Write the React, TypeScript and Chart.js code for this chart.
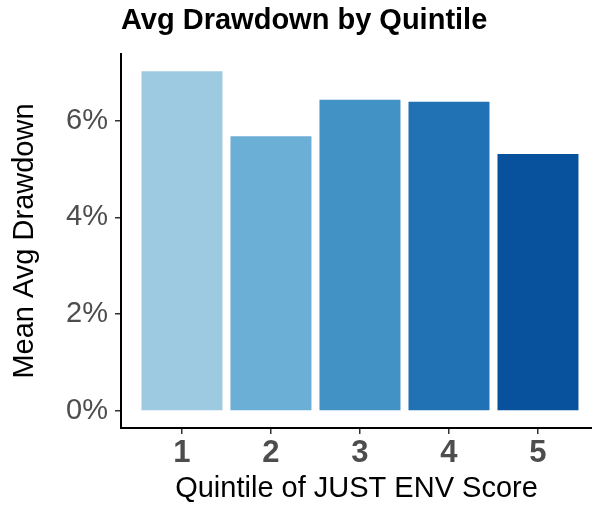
import React, { useEffect, useRef } from "react";
import { Chart, registerables } from "chart.js";

Chart.register(...registerables);

const quintiles = [1, 2, 3, 4, 5];
const meanDrawdown = [7.02, 5.68, 6.43, 6.39, 5.31];
const barColors = ["#9ecae1", "#6baed6", "#4292c6", "#2171b5", "#08519c"];
const yTicks = [0, 2, 4, 6];
const titleText = "Avg Drawdown by Quintile";
const xTitle = "Quintile of JUST ENV Score";
const yTitle = "Mean Avg Drawdown";

const FONT = "'Liberation Sans', Arial, Helvetica, sans-serif";

const titlePlugin = {
  id: "customTitle",
  afterDraw(chart: any) {
    const ctx = chart.ctx;
    ctx.save();
    ctx.font = `bold 29px ${FONT}`;
    ctx.fillStyle = "#000000";
    ctx.textAlign = "left";
    ctx.textBaseline = "middle";
    ctx.fillText(titleText, chart.chartArea.left, 21);
    ctx.restore();
  },
};

export default function App() {
  const ref = useRef<HTMLCanvasElement>(null);
  useEffect(() => {
    if (!ref.current) return;
    const chart = new Chart(ref.current, {
      type: "bar",
      data: {
        datasets: [
          {
            data: quintiles.map((q, i) => ({ x: q, y: meanDrawdown[i] })),
            backgroundColor: barColors,
            borderWidth: 0,
            barPercentage: 0.91,
            categoryPercentage: 1,
          },
        ],
      },
      options: {
        animation: false,
        responsive: false,
        devicePixelRatio: 1,
        layout: { padding: { top: 54, left: 0, right: 0, bottom: 0 } },
        plugins: { legend: { display: false }, tooltip: { enabled: false }, title: { display: false } },
        scales: {
          x: {
            type: "linear",
            offset: false,
            min: 0.315,
            max: 5.607,
            afterBuildTicks: (s: any) => {
              s.ticks = quintiles.map((v) => ({ value: v }));
            },
            afterFit: (s: any) => {
              s.height = 82;
            },
            ticks: {
              callback: (v: any) => String(v),
              font: { family: FONT, size: 31, weight: "bold" },
              color: "#4d4d4d",
              padding: 1,
              maxRotation: 0,
              autoSkip: false,
            },
            grid: { drawOnChartArea: false, offset: false, tickLength: 6, color: "#333333", lineWidth: 1.5 },
            border: { display: true, color: "#000000", width: 2 },
            title: {
              display: true,
              text: xTitle,
              font: { family: FONT, size: 29 },
              color: "#000000",
              padding: { top: 0, bottom: 4 },
            },
          },
          y: {
            min: -0.351,
            max: 7.378,
            afterBuildTicks: (s: any) => {
              s.ticks = yTicks.map((v) => ({ value: v }));
            },
            afterFit: (s: any) => {
              s.width = 121;
            },
            ticks: {
              callback: (v: any) => `${v}%`,
              font: { family: FONT, size: 29 },
              color: "#4d4d4d",
              padding: 7,
            },
            grid: { drawOnChartArea: false, tickLength: 6, color: "#333333", lineWidth: 1.5 },
            border: { display: true, color: "#000000", width: 2 },
            title: {
              display: true,
              text: yTitle,
              font: { family: FONT, size: 29 },
              color: "#000000",
              padding: { top: 8, bottom: 0 },
            },
          },
        },
      },
      plugins: [titlePlugin],
    } as any);
    return () => chart.destroy();
  }, []);
  return (
    <div style={{ position: "fixed", left: 0, top: 0, width: 592, height: 510, background: "#fff" }}>
      <canvas ref={ref} width={592} height={510} style={{ display: "block", width: 592, height: 510 }} />
    </div>
  );
}
